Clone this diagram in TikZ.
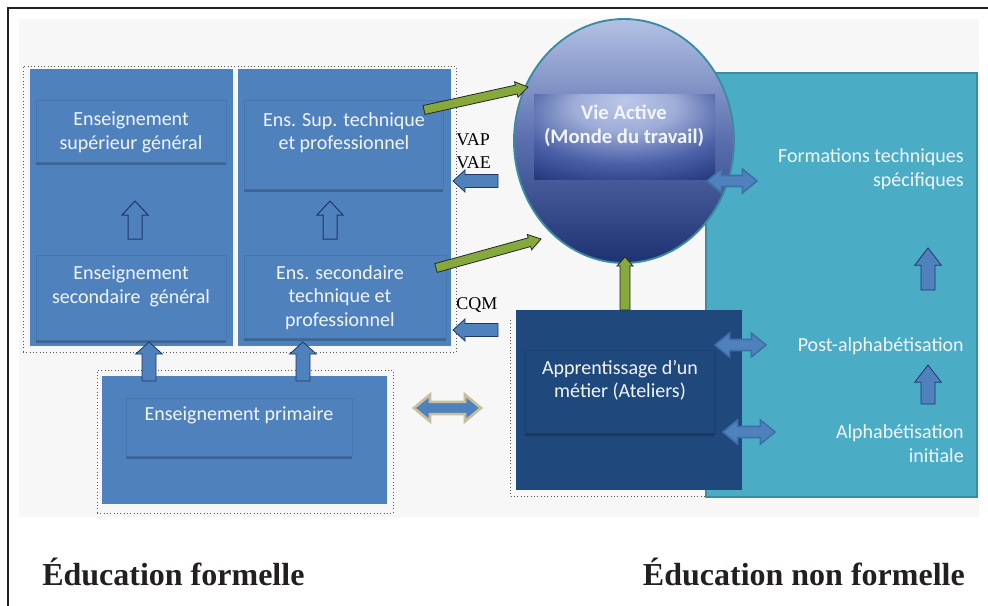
\documentclass[tikz,border=0pt]{standalone}
\usepackage{fontspec}
\setmainfont{Liberation Serif}
\newfontfamily\cbr{Carlito}
\usetikzlibrary{calc,fit,shapes.geometric}

\definecolor{bgc}{HTML}{F7F7F7}
\definecolor{boxblue}{HTML}{4F81BD}
\definecolor{boxedge}{HTML}{45719F}
\definecolor{navyline}{HTML}{1F3864}
\definecolor{appblue}{HTML}{1F487C}
\definecolor{appedge}{HTML}{1A3D69}
\definecolor{tealf}{HTML}{4BACC6}
\definecolor{teald}{HTML}{3A8CA3}
\definecolor{greenf}{HTML}{86A93C}
\definecolor{beige}{HTML}{C9BF9A}
\definecolor{dblline}{HTML}{3E70A8}
\definecolor{circtop}{HTML}{B3C1E3}
\definecolor{circmid}{HTML}{5A6EAE}
\definecolor{circbot}{HTML}{1D3270}
\definecolor{valight}{HTML}{BCC8E8}
\definecolor{vamid}{HTML}{4A5FA6}
\definecolor{vadark}{HTML}{0E2463}
\definecolor{framec}{HTML}{231F20}
\definecolor{txtw}{HTML}{F2F5FA}

\pgfdeclareradialshading{vashade}{\pgfpoint{0bp}{22bp}}{%
  color(0bp)=(valight); color(14bp)=(valight!75!vamid); color(30bp)=(vamid);
  color(46bp)=(vadark!80!vamid); color(56bp)=(vadark); color(80bp)=(vadark)}

% single block arrow: [style]{start}{tip}{shaft half width}{head half width}{head length}
\newcommand{\blockarr}[6][]{%
  \coordinate (ba-h) at ($(#3)!#6!(#2)$);
  \filldraw[#1] ($(#2)!#4!90:(#3)$) -- ($(ba-h)!#4!90:(#3)$) -- ($(ba-h)!#5!90:(#3)$) -- (#3)
    -- ($(ba-h)!#5!-90:(#3)$) -- ($(ba-h)!#4!-90:(#3)$) -- ($(#2)!#4!-90:(#3)$) -- cycle;}
% double block arrow
\newcommand{\dblockarr}[6][]{%
  \coordinate (da-h1) at ($(#2)!#6!(#3)$);
  \coordinate (da-h2) at ($(#3)!#6!(#2)$);
  \filldraw[#1] (#2) -- ($(da-h1)!#5!90:(#3)$) -- ($(da-h1)!#4!90:(#3)$) -- ($(da-h2)!#4!90:(#3)$)
    -- ($(da-h2)!#5!90:(#3)$) -- (#3) -- ($(da-h2)!#5!-90:(#3)$) -- ($(da-h2)!#4!-90:(#3)$)
    -- ($(da-h1)!#4!-90:(#3)$) -- ($(da-h1)!#5!-90:(#3)$) -- cycle;}

\tikzset{
  dotbox/.style={draw=black!65, dotted, line width=0.5pt, inner sep=0pt},
  bluebox/.style={fill=boxblue, inner sep=0pt},
  innerbox/.style={fill=boxblue, draw=boxedge, draw opacity=0.6, line width=0.4pt, inner sep=0pt,
    preaction={fill=black, opacity=0.22, transform canvas={yshift=-2.5pt}}},
  appinner/.style={fill=appblue, draw=appedge, draw opacity=0.6, line width=0.4pt, inner sep=0pt,
    preaction={fill=black, opacity=0.22, transform canvas={yshift=-2.5pt}}},
  tealbox/.style={fill=tealf, draw=teald, line width=1.5pt, inner sep=0pt},
  btxt/.style={font=\cbr\fontsize{15pt}{17.5pt}\selectfont, text=txtw, align=center, inner sep=0pt},
  ttxt/.style={font=\cbr\fontsize{15pt}{18pt}\selectfont, text=txtw, align=right, inner sep=0pt, anchor=east},
  vtxt/.style={font=\cbr\bfseries\fontsize{15.5pt}{18pt}\selectfont, text=txtw, align=center, inner sep=0pt},
  sidetxt/.style={font=\fontsize{13.5pt}{17pt}\selectfont, align=left, inner sep=0pt, anchor=west},
  bigtxt/.style={font=\bfseries\fontsize{24pt}{28pt}\selectfont, text=framec, inner sep=0pt},
  hollowarr/.style={fill=boxblue, draw=navyline, line width=0.75pt},
  bluearr/.style={fill=boxblue, draw=navyline, line width=0.6pt},
  greenarr/.style={fill=greenf, draw=black!85, line width=0.6pt},
  dblarr/.style={fill=boxblue, draw=dblline, line width=1.2pt},
  beigearr/.style={fill=boxblue, draw=beige, line width=2pt},
}

\begin{document}
\begin{tikzpicture}[x=0.75pt,y=-0.75pt]
\useasboundingbox (0,0) rectangle (988,606);

% background and frame
\fill[bgc] (19,19) rectangle (979,517);
\draw[framec, line width=1.5pt] (988,8) -- (8,8) -- (8,606);

% ---- formal education: left group
\node[dotbox, fit={(23,66)(456,352)}] (lgrp) {};
\node[bluebox, fit={(30,69)(233,346)}] (gencol) {};
\node[bluebox, fit={(238,69)(451,346)}] (teccol) {};
\node[innerbox, fit={(36,100)(226,162)}] (esg) {};
\node[innerbox, fit={(244,100)(443,189)}] (estp) {};
\node[innerbox, fit={(36,255)(226,340)}] (esec) {};
\node[innerbox, fit={(244,255)(446,338)}] (esectp) {};

\node[btxt] (t-esg) at (131,132.5) {Enseignement\\supérieur général};
\node[btxt] (t-estp) at (344,132.5) {Ens. Sup. technique\\et professionnel};
\node[btxt] (t-esec) at (131,286.5) {Enseignement\\secondaire\ \ général};
\node[btxt] (t-esectp) at (340,297.5) {Ens. secondaire\\technique et\\professionnel};

% hollow arrows
\coordinate (h1s) at (135,239); \coordinate (h1e) at (135,201);
\coordinate (h2s) at (330,239); \coordinate (h2e) at (330,201);
\blockarr[hollowarr]{h1s}{h1e}{5.25pt}{9.75pt}{10.5pt}
\blockarr[hollowarr]{h2s}{h2e}{5.25pt}{9.75pt}{10.5pt}

% primary
\node[dotbox, fit={(97,370)(393,513)}] (pgrp) {};
\node[bluebox, fit={(102,376)(387,504)}] (prim) {};
\node[innerbox, fit={(126,398)(352,456)}] (primin) {};
\node[btxt] (t-prim) at (239,415) {Enseignement primaire};

\coordinate (u1s) at (149,381); \coordinate (u1e) at (149,342);
\coordinate (u2s) at (303,381); \coordinate (u2e) at (303,342);
\blockarr[bluearr]{u1s}{u1e}{5.25pt}{10pt}{9pt}
\blockarr[bluearr]{u2s}{u2e}{5.25pt}{10pt}{9pt}

% ---- non formal education
\draw[black!65, dotted, line width=0.5pt] (510,320) -- (510,496) -- (706,496);
\node[tealbox, fit={(706,73)(977,497)}] (nf) {};
\node[fill=appblue, inner sep=0pt, fit={(516,310)(742,490)}] (app) {};
\node[appinner, fit={(525,350)(715,433)}] (appin) {};
\node[btxt] (t-app) at (620,380) {Apprentissage d’un\\métier (Ateliers)};

% circle Vie Active
\node[ellipse, draw=teald, line width=1.4pt, top color=circtop, bottom color=circbot, middle color=circmid,
      minimum width=165pt, minimum height=183pt, inner sep=0pt] (vie) at (624,141) {};
\node[inner sep=0pt, shading=vashade, fit={(534,95)(715,179)}] (varect) {};
\node[vtxt] (t-vie) at (624,125.5) {Vie Active\\(Monde du travail)};

% teal texts
\node[ttxt] (t-ft) at (964,169) {Formations techniques\\spécifiques};
\node[ttxt] (t-pa) at (964,346) {Post-alphabétisation};
\node[ttxt] (t-ai) at (964,444) {Alphabétisation\\initiale};

% teal up arrows
\coordinate (n1s) at (928,290); \coordinate (n1e) at (928,248);
\coordinate (n2s) at (928,404); \coordinate (n2e) at (928,365);
\blockarr[bluearr]{n1s}{n1e}{5.25pt}{10pt}{13pt}
\blockarr[bluearr]{n2s}{n2e}{5.25pt}{10pt}{13pt}

% double arrows
\coordinate (d1a) at (707,181); \coordinate (d1b) at (757,181);
\coordinate (d2a) at (715,345); \coordinate (d2b) at (766,345);
\coordinate (d3a) at (723,432); \coordinate (d3b) at (775,432);
\dblockarr[dblarr]{d1a}{d1b}{4.1pt}{9pt}{11pt}
\dblockarr[dblarr]{d2a}{d2b}{4.1pt}{9pt}{11pt}
\dblockarr[dblarr]{d3a}{d3b}{4.1pt}{9pt}{11pt}
\coordinate (d4a) at (414,408); \coordinate (d4b) at (481,408);
\dblockarr[beigearr]{d4a}{d4b}{4.6pt}{10pt}{12pt}

% green arrows
\coordinate (g1s) at (424,110); \coordinate (g1e) at (528,87);
\coordinate (g2s) at (436,268); \coordinate (g2e) at (541,239);
\coordinate (g3s) at (625,310); \coordinate (g3e) at (625,257);
\blockarr[greenarr]{g1s}{g1e}{3.4pt}{6pt}{9pt}
\blockarr[greenarr]{g2s}{g2e}{3.4pt}{6pt}{9pt}
\blockarr[greenarr]{g3s}{g3e}{3.75pt}{6pt}{6.75pt}

% left arrows and side labels
\coordinate (l1s) at (498,181); \coordinate (l1e) at (453,181);
\coordinate (l2s) at (498,330); \coordinate (l2e) at (453,330);
\blockarr[bluearr]{l1s}{l1e}{4.9pt}{8.25pt}{9pt}
\blockarr[bluearr]{l2s}{l2e}{4.9pt}{8.25pt}{9pt}
\node[sidetxt] (t-vap) at (456,151) {VAP\\VAE};
\node[sidetxt] (t-cqm) at (456,305) {CQM};

% bottom titles
\node[bigtxt, anchor=base west] (t-ef) at (42,585) {Éducation formelle};
\node[bigtxt, anchor=base east] (t-enf) at (965,585) {Éducation non formelle};
\end{tikzpicture}
\end{document}
